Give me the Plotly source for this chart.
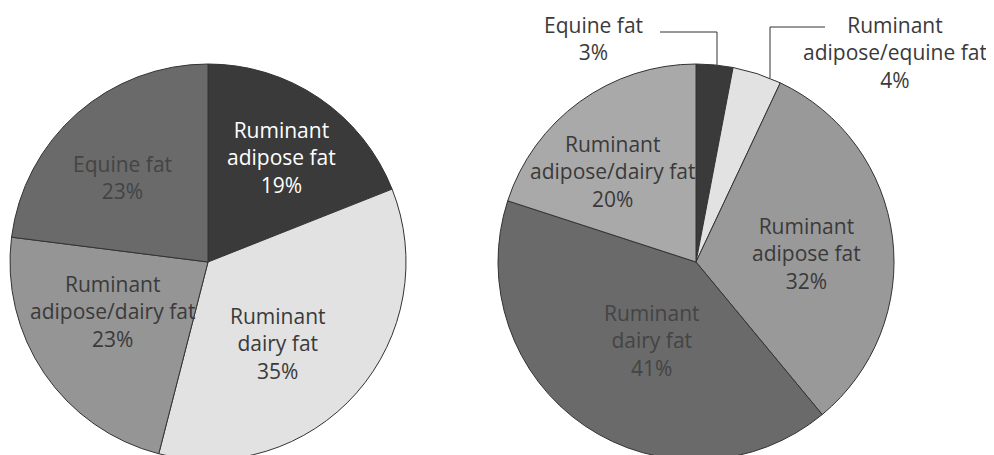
"""
Two pie charts of fat sources (greyscale, labels inside slices)
"""

import plotly.graph_objects as go

# left pie
left_labels = ['Ruminant<br>adipose fat', 'Ruminant<br>dairy fat',
               'Ruminant<br>adipose/dairy fat', 'Equine fat']
left_values = [19, 35, 23, 23]
left_colors = ['#3a3a3a', '#e2e2e2', '#959595', '#6a6a6a']
left_text_colors = ['#ffffff', '#3a3a3a', '#3a3a3a', '#444444']

# right pie
right_labels = ['Equine fat', 'Ruminant<br>adipose/equine fat',
                'Ruminant<br>adipose fat', 'Ruminant<br>dairy fat',
                'Ruminant<br>adipose/dairy fat']
right_values = [3, 4, 32, 41, 20]
right_colors = ['#3a3a3a', '#e2e2e2', '#999999', '#6a6a6a', '#a9a9a9']
right_text_colors = ['#3a3a3a', '#3a3a3a', '#3a3a3a', '#444444', '#3a3a3a']

# label centres on screen (px)
left_label_pos = [(281, 158), (278, 343), (112, 311), (122, 177)]
right_label_pos = [(593, 39), (895, 53), (806, 253), (652, 340), (612, 171)]

FONT = 'Open Sans'
FONT_SIZE = 21
W, H = 994, 455
OFF = 8  # page body margin


def px_x(x):
    return (x - OFF) / W


def px_y(y):
    return 1 - (y - OFF) / H


fig = go.Figure()

for labels, values, colors, cx in [
        (left_labels, left_values, left_colors, 208),
        (right_labels, right_values, right_colors, 696)]:
    r = 198
    fig.add_trace(go.Pie(
        labels=labels,
        values=values,
        sort=False,
        direction='clockwise',
        rotation=0,
        marker=dict(colors=colors, line=dict(color='#333333', width=1)),
        textinfo='none',
        hoverinfo='label+percent',
        domain=dict(x=[px_x(cx - r), px_x(cx + r)],
                    y=[px_y(262 + r), px_y(262 - r)]),
        showlegend=False,
    ))

# slice labels
for labels, values, tcolors, pos in [
        (left_labels, left_values, left_text_colors, left_label_pos),
        (right_labels, right_values, right_text_colors, right_label_pos)]:
    for lab, val, tc, (x, y) in zip(labels, values, tcolors, pos):
        fig.add_annotation(
            x=px_x(x), y=px_y(y), xref='paper', yref='paper',
            xanchor='center', yanchor='middle',
            text=f'{lab}<br>{val}%',
            showarrow=False,
            font=dict(family=FONT, size=FONT_SIZE, color=tc),
        )

# leader lines for the two small slices
line = dict(color='#333333', width=1)
for x0, y0, x1, y1 in [(660, 32, 717, 32), (717, 32, 717, 65),
                       (770, 27, 825, 27), (770, 27, 770, 78)]:
    fig.add_shape(type='line', xref='paper', yref='paper',
                  x0=px_x(x0), y0=px_y(y0), x1=px_x(x1), y1=px_y(y1),
                  line=line)

fig.update_layout(
    width=W,
    height=H,
    margin=dict(l=0, r=0, t=0, b=0),
    paper_bgcolor='white',
    plot_bgcolor='white',
    font=dict(family=FONT, color='#3a3a3a'),
)

fig.write_html("out.html")
